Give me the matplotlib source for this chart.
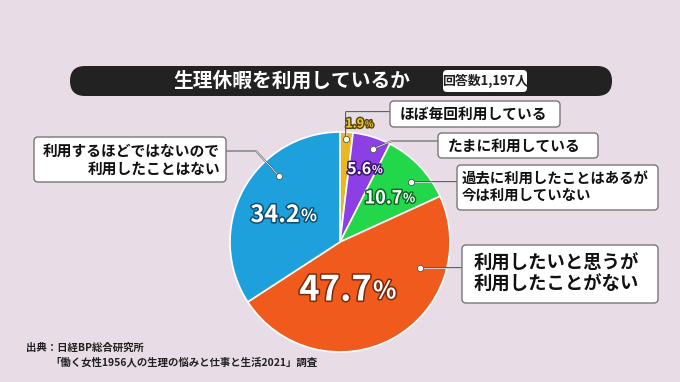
import matplotlib.pyplot as plt
from matplotlib.patches import FancyBboxPatch
import matplotlib.patheffects as pe

plt.rcParams['font.family'] = ['Noto Sans CJK JP', 'DejaVu Sans']

# data
labels = ["ほぼ毎回利用している", "たまに利用している",
          "過去に利用したことはあるが\n今は利用していない",
          "利用したいと思うが\n利用したことがない",
          "利用するほどではないので\n利用したことはない"]
values = [1.9, 5.6, 10.7, 47.7, 34.2]
colors = ["#e9b820", "#8b3fe4", "#22d84a", "#f05a1c", "#1ea0dc"]
title = "生理休暇を利用しているか"
n_text = "回答数1,197人"
source = ["出典：日経BP総合研究所", "「働く女性1956人の生理の悩みと仕事と生活2021」調査"]

W, H = 680, 382
bg = "#e8dde6"
fig = plt.figure(figsize=(6.8, 3.82), dpi=100, facecolor=bg)
ax = fig.add_axes([0, 0, 1, 1])
ax.set_facecolor(bg)

def Y(y):
    return H - y

cx, cy, r = 340, 242, 110
wedges, _ = ax.pie(values, colors=colors, startangle=90, counterclock=False,
                   center=(cx, Y(cy)), radius=r,
                   wedgeprops=dict(edgecolor="white", linewidth=1.2))
ax.set_xlim(0, W)
ax.set_ylim(0, H)
ax.set_aspect("auto")
ax.axis("off")

# title bar
ax.add_patch(FancyBboxPatch((70, Y(96)), 542, 30, boxstyle="round,pad=0,rounding_size=15",
                            fc="#222222", ec="none"))
ax.text(292, Y(81), title, color="white", fontsize=14.2, fontweight="bold",
        ha="center", va="center")
ax.add_patch(FancyBboxPatch((443, Y(92)), 84, 22, boxstyle="round,pad=0,rounding_size=4",
                            fc="white", ec="none"))
ax.text(485, Y(81), n_text, color="#222222", fontsize=9.3, fontweight="bold",
        ha="center", va="center")

# label boxes: (dot, line path, box rect x0,y0,x1,y1, text anchor, ha, fontsize)
lab_spec = [
    ((346, 139), [(346, 139), (346, 112), (390, 112)], (390, 101, 560, 127), 400, "left", 10.6),
    ((373, 149), [(373, 149), (392, 141), (438, 141)], (438, 133, 598, 158), 448, "left", 10.6),
    ((411, 182), [(411, 182), (457, 182)], (457, 165, 658, 210), 462, "left", 10.4),
    ((420, 268), [(420, 268), (462, 268)], (462, 245, 658, 303), 474, "left", 13.2),
    ((279, 176), [(279, 176), (256, 151), (226, 151)], (34, 137, 226, 182), 220, "right", 10.6),
]
for lab, (dot, path, box, tx, ha, fs) in zip(labels, lab_spec):
    xs = [p[0] for p in path]
    ys = [Y(p[1]) for p in path]
    ax.plot(xs, ys, color="#555555", lw=1.3, zorder=3)
    ax.plot(xs, ys, color="white", lw=0.5, zorder=3)
    ax.plot(dot[0], Y(dot[1]), "o", ms=4.5, mfc="white", mec="#555555", mew=0.6, zorder=4)
    x0, y0, x1, y1 = box
    ax.add_patch(FancyBboxPatch((x0, Y(y1)), x1 - x0, y1 - y0,
                                boxstyle="round,pad=0,rounding_size=4",
                                fc="white", ec="#777777", lw=1.0, zorder=5))
    ax.text(tx, Y((y0 + y1) / 2), lab, fontsize=fs, fontweight="bold", color="#111111",
            ha=ha, va="center", ma=ha, linespacing=1.15, zorder=6)

# percentage labels: x, y, fontsize, text color, outline color
pct_spec = [
    (364, 124, 9, "#f2c631", "#5a4a10"),
    (371, 169, 11.5, "white", "#3c1470"),
    (402, 198, 13, "white", "#0d6a22"),
    (372, 290, 25, "white", "#7a2a0a"),
    (300, 215, 17, "white", "#0c4f72"),
]
for v, (px, py, fs, tc, oc) in zip(values, pct_spec):
    eff = [pe.withStroke(linewidth=2.2, foreground=oc)]
    ax.text(px, Y(py), f"{v}", fontsize=fs, fontweight="bold", color=tc,
            ha="right", va="center", path_effects=eff, zorder=7)
    ax.text(px + 1, Y(py) - fs * 0.06, "%", fontsize=fs * 0.7, fontweight="bold", color=tc,
            ha="left", va="center", path_effects=eff, zorder=7)

ax.text(26, Y(348), source[0], fontsize=7.5, fontweight="bold", color="#222222", va="center")
ax.text(50, Y(362), source[1], fontsize=7.5, fontweight="bold", color="#222222", va="center")

fig.savefig("out.png", dpi=100, facecolor=bg)
